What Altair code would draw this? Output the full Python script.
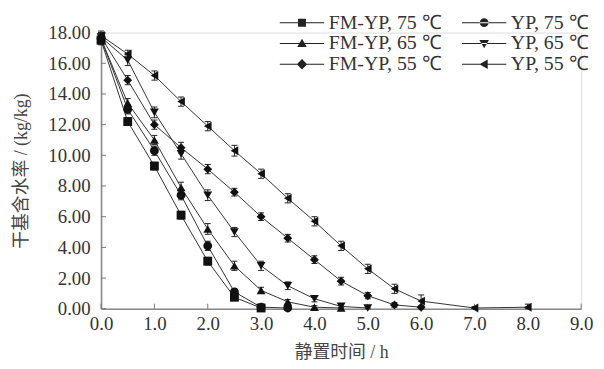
import altair as alt
import pandas as pd

# ---------------- data ----------------
series_names = ["FM-YP, 75 ℃", "YP, 75 ℃", "FM-YP, 65 ℃", "YP, 65 ℃", "FM-YP, 55 ℃", "YP, 55 ℃"]

fm75_t = [0.0, 0.5, 1.0, 1.5, 2.0, 2.5, 3.0]
fm75_y = [17.5, 12.2, 9.3, 6.1, 3.1, 0.75, 0.05]
fm75_e = [0.3, 0.25, 0.25, 0.25, 0.25, 0.2, 0.05]

yp75_t = [0.0, 0.5, 1.0, 1.5, 2.0, 2.5, 3.0, 3.5]
yp75_y = [17.6, 13.0, 10.3, 7.4, 4.1, 1.1, 0.1, 0.05]
yp75_e = [0.3, 0.3, 0.3, 0.3, 0.3, 0.2, 0.1, 0.05]

fm65_t = [0.0, 0.5, 1.0, 1.5, 2.0, 2.5, 3.0, 3.5, 4.0, 4.5]
fm65_y = [17.6, 13.4, 11.0, 7.9, 5.2, 2.8, 1.2, 0.45, 0.1, 0.05]
fm65_e = [0.3, 0.3, 0.3, 0.35, 0.35, 0.3, 0.2, 0.15, 0.1, 0.05]

yp65_t = [0.0, 0.5, 1.0, 1.5, 2.0, 2.5, 3.0, 3.5, 4.0, 4.5, 5.0]
yp65_y = [17.7, 16.2, 12.8, 10.1, 7.4, 5.0, 2.8, 1.5, 0.65, 0.15, 0.05]
yp65_e = [0.3, 0.35, 0.35, 0.35, 0.35, 0.3, 0.3, 0.25, 0.2, 0.1, 0.05]

fm55_t = [0.0, 0.5, 1.0, 1.5, 2.0, 2.5, 3.0, 3.5, 4.0, 4.5, 5.0, 5.5, 6.0]
fm55_y = [17.7, 14.9, 12.0, 10.5, 9.1, 7.6, 6.0, 4.6, 3.2, 1.8, 0.85, 0.25, 0.1]
fm55_e = [0.3, 0.3, 0.3, 0.35, 0.3, 0.25, 0.25, 0.25, 0.25, 0.25, 0.2, 0.15, 0.1]

yp55_t = [0.0, 0.5, 1.0, 1.5, 2.0, 2.5, 3.0, 3.5, 4.0, 4.5, 5.0, 5.5, 6.0, 7.0, 8.0]
yp55_y = [17.8, 16.6, 15.2, 13.5, 11.9, 10.3, 8.8, 7.2, 5.7, 4.1, 2.6, 1.3, 0.5, 0.05, 0.1]
yp55_e = [0.3, 0.25, 0.3, 0.3, 0.3, 0.35, 0.3, 0.3, 0.3, 0.3, 0.3, 0.3, 0.4, 0.1, 0.2]

x_ticks = [0, 1, 2, 3, 4, 5, 6, 7, 8, 9]
y_ticks = [0, 2, 4, 6, 8, 10, 12, 14, 16, 18]

plain_shapes = ["square", "circle", "triangle-up", "triangle-down", "diamond", "triangle-left"]
BAR = "M-5.6,-0.13H5.6V0.13H-5.6Z"
legend_paths = [
    BAR + "M-1,-1H1V1H-1Z",
    BAR + "M-1.1,0A1.1,1.1 0 1,0 1.1,0A1.1,1.1 0 1,0 -1.1,0Z",
    BAR + "M0,-1.2L1.2,0.9H-1.2Z",
    BAR + "M0,1.2L1.2,-0.9H-1.2Z",
    BAR + "M0,-1.3L1.3,0L0,1.3L-1.3,0Z",
    BAR + "M-1.2,0L0.9,-1.2V1.2Z",
]

# ---------------- table ----------------
rows = []
for name, ts, ys, es in zip(
    series_names,
    [fm75_t, yp75_t, fm65_t, yp65_t, fm55_t, yp55_t],
    [fm75_y, yp75_y, fm65_y, yp65_y, fm55_y, yp55_y],
    [fm75_e, yp75_e, fm65_e, yp65_e, fm55_e, yp55_e],
):
    for t, v, e in zip(ts, ys, es):
        rows.append({"s": name, "t": t, "v": v, "e": e})
df = pd.DataFrame(rows)
df["lo"] = (df["v"] - df["e"]).clip(lower=0)
df["hi"] = df["v"] + df["e"]

xtick_df = pd.DataFrame({"t": x_ticks, "v": [0] * len(x_ticks)})
ytick_df = pd.DataFrame({"t": [0] * len(y_ticks), "v": y_ticks})

FONT = "Liberation Serif"
TFONT = "Liberation Serif, Noto Sans CJK SC"

x_scale = alt.Scale(domain=[0, 9], nice=False, zero=False)
y_scale = alt.Scale(domain=[0, 18], nice=False)
x_axis = alt.Axis(values=x_ticks, format=".1f", title="静置时间 / h", grid=False,
                  ticks=False, labelPadding=6, titlePadding=10, labelOverlap=False,
                  labelFontSize=19, titleFontSize=18, titleFontWeight="normal",
                  labelFont=FONT, titleFont=TFONT, labelColor="#333", titleColor="#444",
                  domainColor="#888", domainWidth=1.6, labelFlush=False)
y_axis = alt.Axis(values=y_ticks, format=".2f", title="干基含水率 / (kg/kg)", grid=False,
                  ticks=False, labelPadding=11, titlePadding=18, labelOverlap=False,
                  labelFontSize=19, titleFontSize=18, titleFontWeight="normal",
                  labelFont=FONT, titleFont=TFONT, labelColor="#333", titleColor="#444",
                  domainColor="#888", domainWidth=1.6, labelFlush=False)


def X(field="t"):
    return alt.X(f"{field}:Q", scale=x_scale, axis=x_axis)


def Y(field="v"):
    return alt.Y(f"{field}:Q", scale=y_scale, axis=y_axis)


base = alt.Chart(df)

lines = base.mark_line(color="#333", strokeWidth=1).encode(x=X(), y=Y(), detail="s:N")
err = base.mark_rule(color="#222", strokeWidth=1).encode(x=X(), y=Y("lo"), y2="hi:Q")
cap_lo = base.mark_tick(orient="horizontal", size=6, thickness=1, color="#222", opacity=1).encode(x=X(), y=Y("lo"))
cap_hi = base.mark_tick(orient="horizontal", size=6, thickness=1, color="#222", opacity=1).encode(x=X(), y=Y("hi"))
points = base.mark_point(filled=True, size=80, opacity=1, color="#111").encode(
    x=X(), y=Y(),
    shape=alt.Shape("s:N", scale=alt.Scale(domain=series_names, range=plain_shapes), legend=None),
)
legend_layer = base.transform_filter("datum.t < -1").mark_point(
    filled=True, color="#222", opacity=1, size=64
).encode(
    x=X(), y=Y(),
    shape=alt.Shape(
        "s:N",
        scale=alt.Scale(domain=series_names, range=legend_paths),
        legend=alt.Legend(
            title=None, orient="none", legendX=193, legendY=-20, columns=2,
            direction="horizontal",
            labelFont=FONT, labelFontSize=20, labelColor="#333", labelLimit=0,
            labelOffset=17, columnPadding=17, rowPadding=1, padding=0,
            symbolSize=64, symbolFillColor="#222", symbolOpacity=1,
        ),
    ),
)

xt = alt.Chart(xtick_df).mark_tick(
    orient="vertical", size=5, thickness=1, yOffset=-2.5, color="#777", opacity=1
).encode(x=X(), y=Y())
yt = alt.Chart(ytick_df).mark_tick(
    orient="horizontal", size=5, thickness=1, xOffset=2.5, color="#777", opacity=1
).encode(x=X(), y=Y())

chart = (
    alt.layer(lines, xt, yt, err, cap_lo, cap_hi, points, legend_layer)
    .resolve_scale(shape="independent")
    .properties(
        width=485, height=279,
        autosize=alt.AutoSizeParams(type="none"),
        padding={"left": 94, "top": 23, "right": 15, "bottom": 55},
        background="white",
    )
    .configure_view(stroke=None)
    .configure(font=FONT)
    .configure_axis(labelFont=FONT, titleFont=TFONT, labelOverlap=False)
    .configure_legend(labelFont=FONT)
)

chart.save("out.html", embed_options={"renderer": "svg", "actions": False})
